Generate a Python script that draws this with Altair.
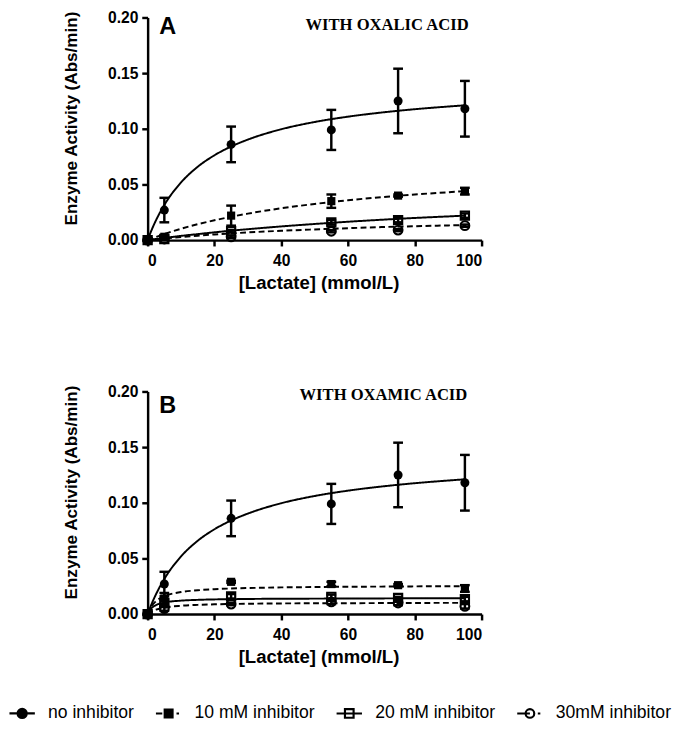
import altair as alt
import pandas as pd

# ---------------- data ----------------
SERIES = ["no inhibitor", "10 mM inhibitor", "20 mM inhibitor", "30mM inhibitor"]
X_CONC = [0, 5, 25, 55, 75, 95]

# Panel A (oxalic acid): mean and SD
A_NONE = [0, 0.027, 0.086, 0.099, 0.125, 0.118]
A_NONE_SD = [0, 0.011, 0.016, 0.018, 0.029, 0.025]
A_10 = [0, 0.003, 0.022, 0.035, 0.040, 0.044]
A_10_SD = [0, 0.001, 0.009, 0.006, 0.001, 0.003]
A_20 = [0, 0.001, 0.008, 0.016, 0.018, 0.022]
A_20_SD = [0, 0, 0.001, 0.002, 0.002, 0.002]
A_30 = [0, 0.001, 0.003, 0.008, 0.009, 0.013]
A_30_SD = [0, 0, 0.001, 0.001, 0.001, 0.001]

# Panel B (oxamic acid): mean and SD
B_NONE = [0, 0.027, 0.086, 0.099, 0.125, 0.118]
B_NONE_SD = [0, 0.011, 0.016, 0.018, 0.029, 0.025]
B_10 = [0, 0.014, 0.029, 0.027, 0.026, 0.023]
B_10_SD = [0, 0.005, 0.001, 0.002, 0.001, 0.003]
B_20 = [0, 0.010, 0.016, 0.0155, 0.0145, 0.0135]
B_20_SD = [0, 0.003, 0.002, 0.002, 0.001, 0.002]
B_30 = [0, 0.005, 0.009, 0.011, 0.010, 0.007]
B_30_SD = [0, 0.002, 0.001, 0.002, 0.002, 0.002]

# fitted curves
CURVE_X = [0, 1, 2.5, 5, 10, 15, 20, 25, 30, 40, 50, 60, 70, 80, 90, 95]
A_NONE_FIT = [0, 0.0077, 0.0178, 0.0316, 0.0518, 0.0659, 0.0762, 0.0841, 0.0903,
              0.0996, 0.1061, 0.1109, 0.1146, 0.1176, 0.1200, 0.1211]
A_10_FIT = [0, 0.0012, 0.0028, 0.0055, 0.0102, 0.0143, 0.0178, 0.0210, 0.0238,
            0.0286, 0.0325, 0.0358, 0.0386, 0.0410, 0.0430, 0.0440]
A_20_FIT = [0, 0.0004, 0.0010, 0.0019, 0.0038, 0.0054, 0.0070, 0.0085, 0.0098,
            0.0123, 0.0145, 0.0165, 0.0183, 0.0199, 0.0213, 0.0220]
A_30_FIT = [0, 0.0003, 0.0008, 0.0015, 0.0028, 0.0040, 0.0051, 0.0060, 0.0069,
            0.0084, 0.0096, 0.0107, 0.0117, 0.0125, 0.0132, 0.0135]
B_NONE_FIT = A_NONE_FIT
B_10_FIT = [0, 0.0064, 0.0116, 0.0160, 0.0198, 0.0214, 0.0224, 0.0230, 0.0234,
            0.0240, 0.0243, 0.0246, 0.0247, 0.0249, 0.0250, 0.0250]
B_20_FIT = [0, 0.0048, 0.0081, 0.0104, 0.0121, 0.0128, 0.0132, 0.0134, 0.0136,
            0.0138, 0.0139, 0.0140, 0.0141, 0.0142, 0.0142, 0.0142]
B_30_FIT = [0, 0.0021, 0.0040, 0.0058, 0.0075, 0.0083, 0.0088, 0.0091, 0.0093,
            0.0096, 0.0097, 0.0098, 0.0099, 0.0100, 0.0101, 0.0101]

X_TICKS = [0, 20, 40, 60, 80, 100]
Y_TICKS = [0, 0.05, 0.10, 0.15, 0.20]

# ---------------- tables ----------------
pt_rows, cv_rows = [], []
for panel, means, sds, fits in [
    ("A", [A_NONE, A_10, A_20, A_30], [A_NONE_SD, A_10_SD, A_20_SD, A_30_SD],
     [A_NONE_FIT, A_10_FIT, A_20_FIT, A_30_FIT]),
    ("B", [B_NONE, B_10, B_20, B_30], [B_NONE_SD, B_10_SD, B_20_SD, B_30_SD],
     [B_NONE_FIT, B_10_FIT, B_20_FIT, B_30_FIT]),
]:
    for s, m, sd, f in zip(SERIES, means, sds, fits):
        for x, y, e in zip(X_CONC, m, sd):
            pt_rows.append({"panel": panel, "series": s, "x": x, "y": y, "sd": e})
        for x, y in zip(CURVE_X, f):
            cv_rows.append({"panel": panel, "series": s, "x": x, "y": y})
points = pd.DataFrame(pt_rows)
curves = pd.DataFrame(cv_rows)

X_SCALE = alt.Scale(domain=[0, 100], nice=False)
Y_SCALE = alt.Scale(domain=[0, 0.2], nice=False)
X_AXIS = alt.Axis(values=X_TICKS, title="[Lactate] (mmol/L)", titleX=175)
Y_AXIS = alt.Axis(values=Y_TICKS, format=".2f", title="Enzyme Activity (Abs/min)", titleY=103)


def X(field="x"):
    return alt.X(f"{field}:Q", scale=X_SCALE, axis=X_AXIS)


def Y(field="y"):
    return alt.Y(f"{field}:Q", scale=Y_SCALE, axis=Y_AXIS)


LEGEND_PATHS = [
    "M-1,0L1,0M0.36,0A0.36,0.36,0,1,1,-0.36,0A0.36,0.36,0,1,1,0.36,0Z",
    "M-1,0L-0.5,0M-0.31,-0.31L0.31,-0.31L0.31,0.31L-0.31,0.31ZM0.62,0L0.82,0",
    "M-1,0L1,0M-0.34,-0.34L0.34,-0.34L0.34,0.34L-0.34,0.34Z",
    "M-1,0L0,0M0.34,0A0.34,0.34,0,1,1,-0.34,0A0.34,0.34,0,1,1,0.34,0ZM0.62,0L0.82,0",
]
LEGEND_FILLS = ["black", "black", "transparent", "transparent"]
LEGEND_STROKES = ["black", "black", "black", "black"]

DASHES = [[1, 0], [6, 3.5], [1, 0], [6, 3.5]]

MARKERS = [
    dict(shape="circle", filled=True, size=85),
    dict(shape="square", filled=True, size=70),
    dict(shape="square", filled=False, size=70, strokeWidth=2.2),
    dict(shape="circle", filled=False, size=80, strokeWidth=2.2),
]


def make_panel(pid, letter, letter_xy, title_text, title_xy, legend=False):
    pts = alt.Chart(points).transform_filter(alt.datum.panel == pid)
    cvs = alt.Chart(curves).transform_filter(alt.datum.panel == pid)
    layers = []
    for s, dash in zip(SERIES, DASHES):
        layers.append(
            cvs.transform_filter(alt.datum.series == s).mark_line(
                color="black", strokeWidth=2, interpolate="monotone", strokeDash=dash
            ).encode(x=X(), y=Y())
        )
    err = pts.transform_filter(alt.datum.sd > 0).transform_calculate(
        lo="datum.y - datum.sd", hi="datum.y + datum.sd"
    )
    layers.append(
        err.mark_rule(color="black", strokeWidth=2.5).encode(x=X(), y=Y("lo"), y2="hi:Q")
    )
    layers.append(
        err.transform_fold(["lo", "hi"], as_=["end", "v"]).mark_tick(
            color="black", orient="horizontal", size=10, thickness=2.5, opacity=1
        ).encode(x=X(), y=Y("v"))
    )
    for s, kw in zip(SERIES, MARKERS):
        layers.append(
            pts.transform_filter(alt.datum.series == s)
            .mark_point(color="black", opacity=1, **kw)
            .encode(x=X(), y=Y())
        )
    ann_letter = pd.DataFrame({"x": [letter_xy[0]], "y": [letter_xy[1]], "t": [letter]})
    ann_title = pd.DataFrame({"x": [title_xy[0]], "y": [title_xy[1]], "t": [title_text]})
    layers.append(
        alt.Chart(ann_letter).mark_text(
            align="left", baseline="middle", font="Liberation Sans",
            fontWeight="bold", fontSize=24, color="black",
        ).encode(x=X(), y=Y(), text="t:N")
    )
    layers.append(
        alt.Chart(ann_title).mark_text(
            align="center", baseline="middle", font="Liberation Serif",
            fontWeight="bold", fontSize=17, color="black",
        ).encode(x=X(), y=Y(), text="t:N")
    )
    if legend:
        leg = alt.Legend(
            title=None, orient="none", legendX=-143, legendY=698,
            direction="horizontal", columns=4, columnPadding=17,
            labelFont="Liberation Sans", labelFontSize=18, labelColor="black",
            labelOffset=12, symbolSize=676, symbolStrokeWidth=2.2,
            symbolStrokeColor="black", symbolOpacity=1,
        )
        layers.append(
            alt.Chart(pd.DataFrame({"series": SERIES})).mark_point(
                filled=False, opacity=0, strokeWidth=2
            ).encode(
                x=alt.value(0), y=alt.value(0),
                shape=alt.Shape("series:N", scale=alt.Scale(domain=SERIES, range=LEGEND_PATHS), legend=leg),
                fill=alt.Fill("series:N", scale=alt.Scale(domain=SERIES, range=LEGEND_FILLS), legend=leg),
                stroke=alt.Stroke("series:N", scale=alt.Scale(domain=SERIES, range=LEGEND_STROKES), legend=leg),
            )
        )
    return alt.layer(*layers).properties(width=342, height=228)


panelA = make_panel("A", "A", (3.5, 0.191), "WITH OXALIC ACID", (71.7, 0.193))
panelB = make_panel("B", "B", (3.5, 0.187), "WITH OXAMIC ACID", (70.6, 0.197), legend=True)

chart = (
    alt.vconcat(panelA, panelB, spacing=93)
    .properties(padding={"left": 0, "top": -7, "right": 0, "bottom": 0})
    .configure_view(stroke=None)
    .configure_axis(
        grid=False, domainColor="black", domainWidth=2.5, tickColor="black",
        tickWidth=2.5, tickSize=6, labelFont="Liberation Sans", labelFontWeight="bold",
        labelFontSize=16, labelColor="black", titleFont="Liberation Sans",
        titleFontWeight="bold", titleColor="black", labelPadding=7,
    )
    .configure_axisX(titleFontSize=19, titlePadding=6)
    .configure_axisY(titleFontSize=17.5, titlePadding=28, labelPadding=4)
)

chart.save("out.html", embed_options={"renderer": "svg", "actions": False})
